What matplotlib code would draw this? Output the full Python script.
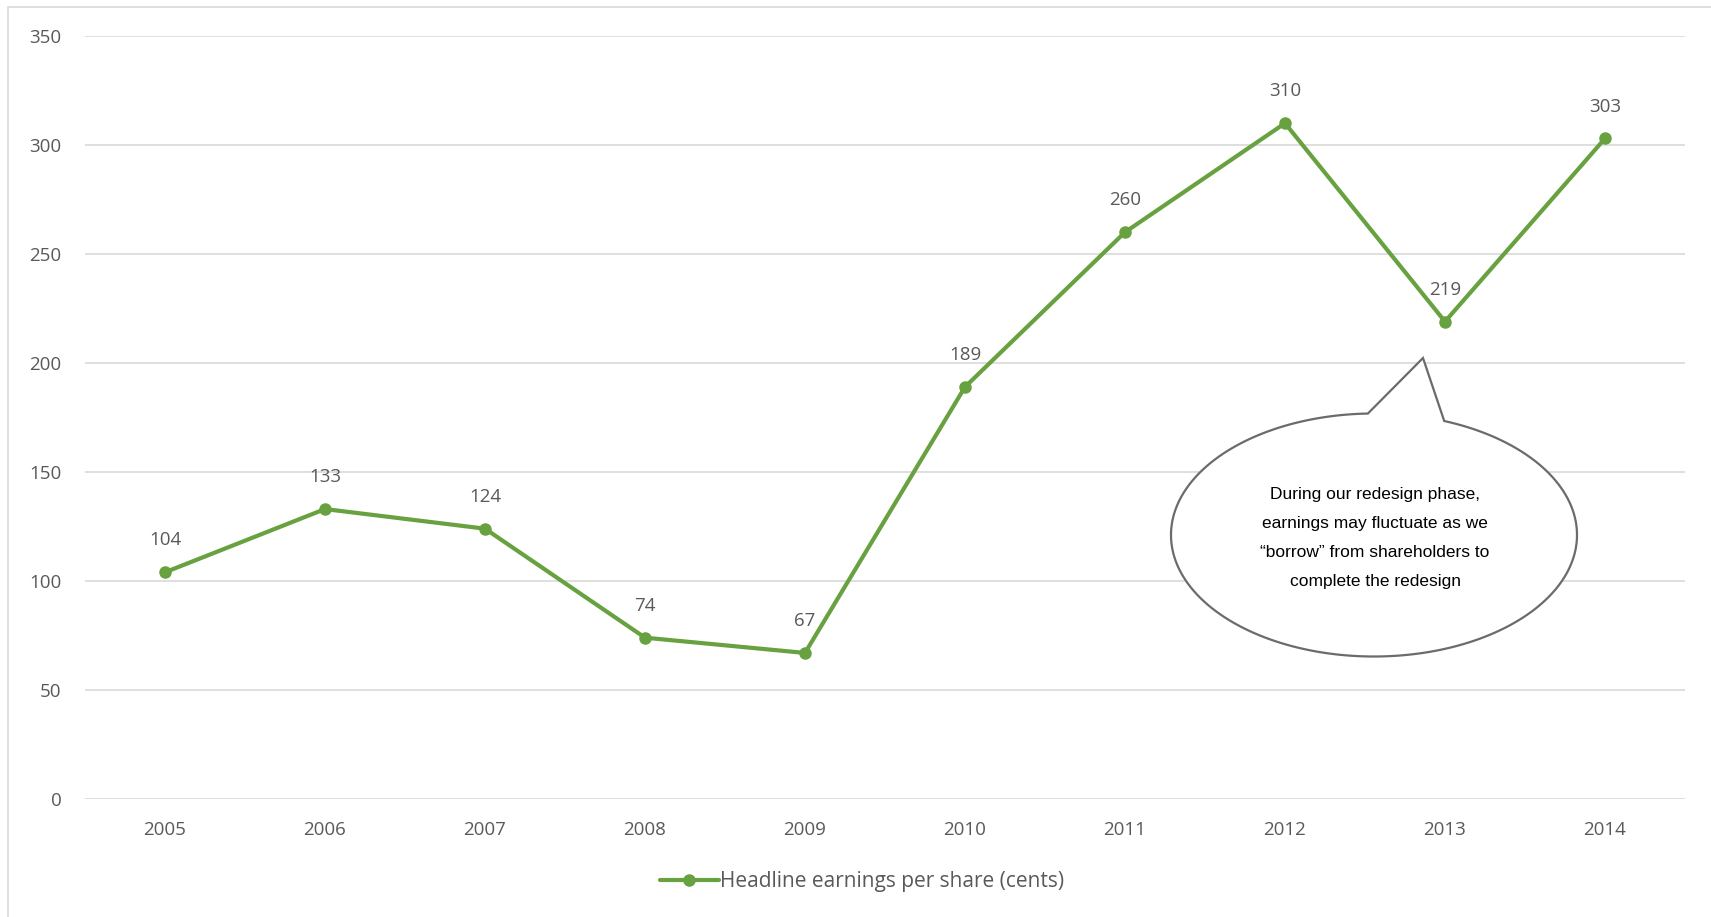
import numpy as np
import matplotlib.pyplot as plt
from matplotlib.patches import Polygon, Rectangle
from matplotlib import font_manager

# data
years = ['2005', '2006', '2007', '2008', '2009', '2010', '2011', '2012', '2013', '2014']
eps = [104, 133, 124, 74, 67, 189, 260, 310, 219, 303]
series_name = 'Headline earnings per share (cents)'
y_ticks = [0, 50, 100, 150, 200, 250, 300, 350]
note = ('During our redesign phase,\nearnings may fluctuate as we\n'
        '\u201cborrow\u201d from shareholders to\ncomplete the redesign')

W, H = 1711, 917
green = '#68a13f'
grey = '#595959'

fig = plt.figure(figsize=(W / 100, H / 100), dpi=100)
ax = fig.add_axes([85 / W, 1 - 799 / H, 1600 / W, (799 - 36) / H])

x = np.arange(len(years))
ax.plot(x, eps, color=green, linewidth=3, marker='o', markersize=8,
        label=series_name, solid_capstyle='round')
for xi, v in zip(x, eps):
    ax.annotate(str(v), (xi, v), xytext=(0, 23), textcoords='offset points',
                ha='center', va='center', fontsize=13.5, color=grey,
                family='Open Sans')

ax.set_xlim(-0.5, len(years) - 0.5)
ax.set_ylim(0, 350)
ax.set_xticks(x)
ax.set_xticklabels(years)
ax.set_yticks(y_ticks)
ax.tick_params(length=0, labelsize=13.5, colors=grey)
ax.tick_params(axis='x', pad=16)
ax.tick_params(axis='y', pad=17)
for lab in ax.get_xticklabels() + ax.get_yticklabels():
    lab.set_family('Open Sans')
for s in ax.spines.values():
    s.set_visible(False)
ax.grid(axis='y', color='#d9d9d9', linewidth=1.2)
ax.set_axisbelow(True)

fig.legend(loc='center', bbox_to_anchor=(862 / W, 1 - 882 / H), frameon=False,
           handlelength=2.8, handletextpad=0.05,
           prop={'family': 'Open Sans', 'size': 15}, labelcolor=grey)

# outer chart border
fig.patches.append(Rectangle((8 / W, -0.05), 1.2, 1 - 7 / H + 0.05,
                             transform=fig.transFigure, fill=False,
                             edgecolor='#d9d9d9', linewidth=1.2))

# speech bubble
cx, cy, a, b = 1374, 535, 203, 121.5
base1, tip, base2 = (1368, 416), (1423, 358), (1443, 423)
t1 = np.arctan2((base1[1] - cy) / b, (base1[0] - cx) / a)
t2 = np.arctan2((base2[1] - cy) / b, (base2[0] - cx) / a)
t = np.linspace(t2, t1 + 2 * np.pi, 400)
px = np.concatenate([cx + a * np.cos(t), [tip[0]]])
py = np.concatenate([cy + b * np.sin(t), [tip[1]]])
pts = np.column_stack([px / W, 1 - py / H])
fig.patches.append(Polygon(pts, closed=True, transform=fig.transFigure,
                           facecolor='white', edgecolor='#6b6b6b',
                           linewidth=1.6, zorder=5))

names = {f.name for f in font_manager.fontManager.ttflist}
if 'Liberation Sans Narrow' in names:
    nfam, nsize = 'Liberation Sans Narrow', 14.5
else:
    nfam, nsize = 'Liberation Sans', 12.5
fig.text(1375 / W, 1 - 538 / H, note, ha='center', va='center',
         fontsize=nsize, family=nfam, color='black', linespacing=2.15,
         zorder=6)

plt.savefig('out.png', dpi=100)
